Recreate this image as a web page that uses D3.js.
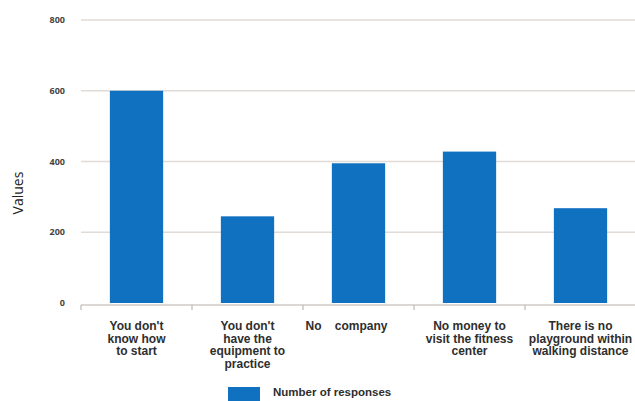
<!DOCTYPE html>
<html>
<head>
    <script src="https://d3js.org/d3.v7.min.js"></script>
    <style>
        body { margin: 0; background: #fff; font-family: "Open Sans", Arial, sans-serif; }
        .grid line { stroke: #e0dbd6; stroke-width: 1.4; }
        .tick-label { font-size: 9px; font-weight: 700; fill: #444; }
        .cat-label { font-family: "Liberation Sans Narrow", "Liberation Sans", sans-serif; font-size: 12px; font-weight: 700; fill: #2e2e2e; }
    </style>
</head>
<body>
    <div id="chart"></div>
    <script>
        // Data
        const categories = [
            ["You don't", "know how", "to start"],
            ["You don't", "have the", "equipment to", "practice"],
            ["No    company"],
            ["No money to", "visit the fitness", "center"],
            ["There is no", "playground within", "walking distance"]
        ];
        const values = [600, 245, 395, 428, 268];
        const yTicks = [0, 200, 400, 600, 800];
        const seriesName = "Number of responses";

        const width = 635, height = 401;
        const margin = { left: 81, right: -1, top: 20, bottom: 97 };

        const svg = d3.select('#chart').append('svg')
            .attr('width', width)
            .attr('height', height);

        const x = d3.scaleBand()
            .domain(d3.range(categories.length))
            .range([margin.left, width - margin.right])
            .paddingInner(0.52)
            .paddingOuter(0.26);

        const y = d3.scaleLinear()
            .domain([0, 800])
            .range([height - margin.bottom - 1, margin.top]);

        // Grid lines
        svg.append('g').attr('class', 'grid')
            .selectAll('line')
            .data(yTicks.filter(d => d > 0))
            .enter().append('line')
            .attr('x1', margin.left)
            .attr('x2', width)
            .attr('y1', d => y(d))
            .attr('y2', d => y(d));

        // Tick labels
        svg.append('g')
            .selectAll('text')
            .data(yTicks)
            .enter().append('text')
            .attr('class', 'tick-label')
            .attr('x', 65)
            .attr('y', d => y(d))
            .attr('dy', '0.35em')
            .attr('text-anchor', 'end')
            .text(d => d);

        // Bars
        svg.append('g')
            .selectAll('rect')
            .data(values)
            .enter().append('rect')
            .attr('x', (d, i) => x(i))
            .attr('y', d => y(d))
            .attr('width', x.bandwidth())
            .attr('height', d => y(0) - y(d))
            .attr('fill', '#1171c1');

        // Baseline with category ticks
        const step = x.step();
        const base = y(0) + 2;
        const x0 = x(0) - step * x.paddingOuter();
        svg.append('line')
            .attr('x1', margin.left).attr('x2', width)
            .attr('y1', base).attr('y2', base)
            .attr('stroke', '#cfcac6').attr('stroke-width', 1.5);
        svg.append('g')
            .selectAll('line')
            .data(d3.range(categories.length + 1))
            .enter().append('line')
            .attr('x1', i => x0 + i * step)
            .attr('x2', i => x0 + i * step)
            .attr('y1', base).attr('y2', base + 5)
            .attr('stroke', '#bdb8b4').attr('stroke-width', 1.2);

        // Category labels, one text per line
        const lines = [];
        categories.forEach((c, i) => c.forEach((t, j) => lines.push({ t, i, j })));
        svg.append('g')
            .selectAll('text')
            .data(lines)
            .enter().append('text')
            .attr('class', 'cat-label')
            .attr('text-anchor', 'middle')
            .attr('xml:space', 'preserve')
            .style('white-space', 'pre')
            .attr('x', d => x(d.i) + x.bandwidth() / 2 - (d.t.startsWith('No  ') ? 12 : 0))
            .attr('y', d => 330 + d.j * 12.7)
            .text(d => d.t);

        // Y axis title
        svg.append('text')
            .attr('transform', 'translate(23,193) rotate(-90)')
            .attr('text-anchor', 'middle')
            .style('font-size', '14px')
            .style('fill', '#222')
            .text('Values');

        // Legend
        svg.append('rect')
            .attr('x', 228).attr('y', 387)
            .attr('width', 32).attr('height', 16)
            .attr('fill', '#1171c1');
        svg.append('text')
            .attr('x', 273).attr('y', 396)
            .style('font-family', '"Liberation Sans Narrow", "Liberation Sans", sans-serif')
            .style('font-size', '11.5px')
            .style('font-weight', 700)
            .style('fill', '#2e2e2e')
            .text(seriesName);
    </script>
</body>
</html>
